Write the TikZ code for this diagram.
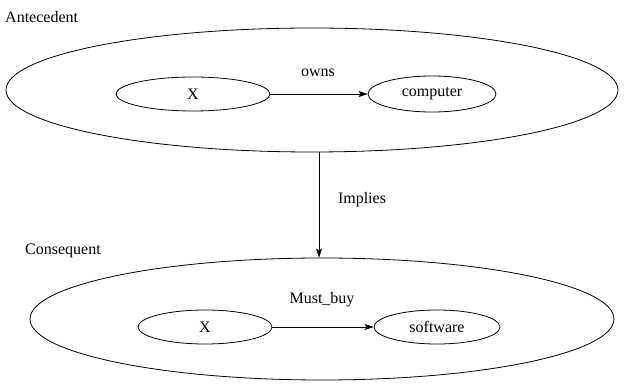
\documentclass[tikz,border=0pt]{standalone}
\usepackage{fontspec}
\setmainfont{Liberation Serif}
\usetikzlibrary{shapes.geometric,arrows.meta}
\begin{document}
\begin{tikzpicture}[x=1pt,y=-1pt,
  ell/.style={draw, ellipse, inner sep=0pt, line width=0.8pt},
  lbl/.style={font=\fontsize{16}{18}\selectfont, inner sep=0pt},
  conn/.style={line width=0.8pt, -{Stealth[length=9pt,width=6pt,inset=2pt]}}]
\useasboundingbox (0,0) rectangle (625,390);
\node[ell, minimum width=612pt, minimum height=124pt] (A) at (312,90) {};
\node[ell, minimum width=154pt, minimum height=34pt, lbl] (x1) at (193,94) {X};
\node[ell, minimum width=128pt, minimum height=36pt, lbl] (comp) at (432,94) {computer};
\node[lbl] (owns) at (318,73) {owns};
\node[lbl, anchor=west] (ant) at (5,17) {Antecedent};
\draw[conn] (x1) -- (comp);

\node[ell, minimum width=584pt, minimum height=122pt] (C) at (322,319) {};
\node[ell, minimum width=134pt, minimum height=34pt, lbl] (x2) at (205,327) {X};
\node[ell, minimum width=126pt, minimum height=34pt, lbl] (soft) at (437,327) {software};
\node[lbl] (must) at (322,300) {Must\_buy};
\node[lbl, anchor=west] (con) at (25,251) {Consequent};
\draw[conn] (x2) -- (soft);

\draw[conn] (A.south -| 319,0) -- (C.north -| 319,0);
\node[lbl] (imp) at (362,200) {Implies};
\end{tikzpicture}
\end{document}
